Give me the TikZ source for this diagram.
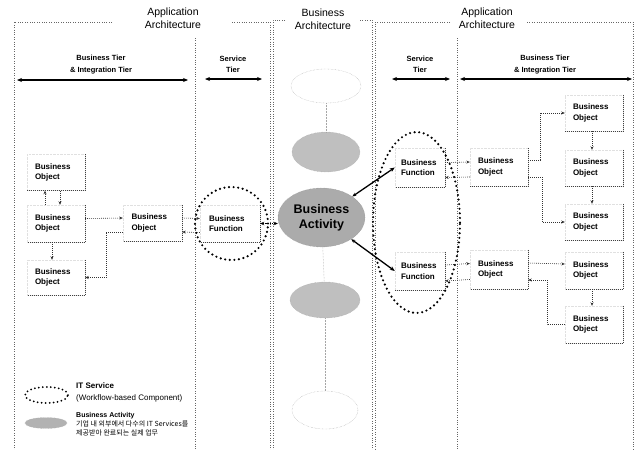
\documentclass[tikz,border=0pt]{standalone}
\usepackage{fontspec}
\setmainfont{Liberation Sans}
\newfontfamily\krfont{Noto Sans CJK KR}
\usetikzlibrary{shapes.geometric,arrows.meta}
\begin{document}
\begin{tikzpicture}[x=1pt,y=-1pt,
 frame/.style={draw=black!60, line width=0.5pt, dash pattern=on 0.8pt off 1.6pt},
 tierarrow/.style={line width=1.1pt, {Stealth[length=5pt,width=4pt]}-{Stealth[length=5pt,width=4pt]}},
 titletext/.style={font=\fontsize{10.5}{13}\selectfont, align=center, inner sep=0},
 tiertext/.style={font=\bfseries\fontsize{7.5}{11.5}\selectfont, align=center, inner sep=0},
 bobox/.style={rectangle, minimum width=58pt, minimum height=36pt, text width=42pt, align=left, inner sep=0, font=\bfseries\fontsize{8}{10.5}\selectfont, draw=black!12, densely dotted},
 bfbox/.style={bobox, minimum width=50pt, text width=38pt},
 shadowedge/.style={draw=black!75, line width=0.6pt, dash pattern=on 0.8pt off 1.2pt},
 conn/.style={draw=black!80, line width=0.6pt, dash pattern=on 0.8pt off 1.2pt, -{Stealth[length=3.5pt,width=3pt]}},
 itserv/.style={draw, line width=2.4pt, dash pattern=on 0pt off 4.6pt, line cap=round},
 grayell/.style={ellipse, fill=black!25, draw=black!35, densely dotted, inner sep=0},
 faintell/.style={ellipse, draw=black!35, densely dotted, inner sep=0},
 faint/.style={draw=black!35, densely dotted, line width=0.5pt},
 baline/.style={line width=1.3pt, {Stealth[length=4pt,width=3.5pt]}-{Stealth[length=5pt,width=4pt]}},
 legtext/.style={align=left, inner sep=0}
]
\useasboundingbox (0,0) rectangle (643,450);
\fill[white] (0,0) rectangle (643,450);

% frames
\draw[frame] (112,22) -- (14,22) -- (14,452);
\draw[frame] (232,22) -- (270,22) -- (270,452);
\draw[frame] (195,38) -- (195,452);
\draw[frame] (285,20) -- (273,20) -- (273,452);
\draw[frame] (360,20) -- (372,20) -- (372,452);
\draw[frame] (450,22) -- (375,22) -- (375,452);
\draw[frame] (527,22) -- (633,22) -- (633,452);
\draw[frame] (457,38) -- (457,452);

% titles
\node[titletext] (t1) at (173,18.5) {Application\\Architecture};
\node[titletext] (t2) at (323,19) {Business\\Architecture};
\node[titletext] (t3) at (487,18.5) {Application\\Architecture};

% tiers
\node[tiertext] (tl1) at (101,64.5) {Business Tier\\\& Integration Tier};
\node[tiertext] (tl2) at (233,64.5) {Service\\Tier};
\node[tiertext] (tr1) at (420,64.5) {Service\\Tier};
\node[tiertext] (tr2) at (545,64.5) {Business Tier\\\& Integration Tier};
\coordinate (a1s) at (17,80); \coordinate (a1e) at (188,80);
\coordinate (a2s) at (205,79); \coordinate (a2e) at (262,79);
\coordinate (a3s) at (392,79); \coordinate (a3e) at (450,79);
\coordinate (a4s) at (460,79); \coordinate (a4e) at (632,79);
\draw[tierarrow] (a1s) -- (a1e);
\draw[tierarrow] (a2s) -- (a2e);
\draw[tierarrow] (a3s) -- (a3e);
\draw[tierarrow] (a4s) -- (a4e);

% business column ellipses
\node[faintell, minimum width=70pt, minimum height=34pt] (e1) at (326,86) {};
\node[grayell, minimum width=68pt, minimum height=40pt] (e2) at (326,152) {};
\node[ellipse, fill=black!33, draw=black!45, densely dotted, minimum width=87pt, minimum height=59pt, inner sep=0,
      font=\bfseries\fontsize{12.5}{15}\selectfont, align=center] (ba) at (321.5,217.5) {Business\\Activity};
\node[grayell, minimum width=70pt, minimum height=36pt] (e4) at (325,300) {};
\node[faintell, minimum width=66pt, minimum height=38pt] (e5) at (325,410) {};
\draw[faint] (e1) -- (e2);
\draw[faint] (ba) -- (e4);
\draw[faint] (e4) -- (e5);

% left side boxes
\node[bobox] (bo1) at (56,172.5) {Business\\Object};
\node[bobox, minimum height=37pt] (bo2) at (56,223.5) {Business\\Object};
\node[bobox, minimum height=35pt] (bo3) at (56,277.5) {Business\\Object};
\node[bobox, minimum width=59pt] (bomid) at (152.5,223) {Business\\Object};
\node[bobox, minimum width=60pt, minimum height=37pt] (bfL) at (230,223.5) {Business\\Function};

% right side boxes
\node[bfbox, minimum height=39pt] (bfRu) at (420,167.5) {Business\\Function};
\node[bfbox, minimum height=38pt] (bfRl) at (420,271) {Business\\Function};
\node[bobox, minimum height=38pt] (boRu) at (499,167) {Business\\Object};
\node[bobox, minimum height=39pt] (boRl) at (499,269.5) {Business\\Object};
\node[bobox] (ra1) at (594,113) {Business\\Object};
\node[bobox] (ra2) at (594,168) {Business\\Object};
\node[bobox] (ra3) at (594,222) {Business\\Object};
\node[bobox, minimum height=37pt] (rb1) at (594,270.5) {Business\\Object};
\node[bobox, minimum height=37pt] (rb2) at (594,324.5) {Business\\Object};

\foreach \n in {bo1,bo2,bo3,bomid,bfL,bfRu,bfRl,boRu,boRl,ra1,ra2,ra3,rb1,rb2}
  \draw[shadowedge] (\n.north east) -- (\n.south east) -- (\n.south west);

% IT service ellipses
\node[itserv, circle, minimum size=73pt, inner sep=0] (itsL) at (231.5,223.5) {};
\node[itserv, ellipse, minimum width=87pt, minimum height=181pt, inner sep=0] (itsR) at (416.5,222.5) {};

% left connectors
\draw[conn] ([xshift=-11pt]bo2.north) -- ([xshift=-11pt]bo1.south);
\draw[conn] ([xshift=4pt]bo1.south) -- ([xshift=4pt]bo2.north);
\draw[conn] ([xshift=-4pt]bo2.south) -- ([xshift=-4pt]bo3.north);
\draw[conn] ([yshift=5pt]bo2.east) -- ([yshift=5pt]bomid.west);
\draw[conn] ([yshift=-9pt]bomid.west) -- ++(-17,0) |- (bo3.east);
\draw[conn] ([yshift=5pt]bomid.east) -- ([yshift=5pt]bfL.west);
\draw[conn] ([yshift=-9pt]bfL.west) -- ([yshift=-9pt]bomid.east);
\draw[line width=0.9pt, densely dotted, {Stealth[length=4pt,width=3.5pt]}-{Stealth[length=4pt,width=3.5pt]}] (bfL.east) -- (ba.west |- bfL.east);

% business activity to right functions
\draw[baline] (ba) -- (bfRu.west);
\draw[baline] (ba) -- (bfRl.west);

% right connectors
\draw[conn] ([yshift=5pt]bfRu.east) -- ([yshift=5pt]boRu.west);
\draw[conn] ([yshift=-10pt]boRu.west) -- ([yshift=-10pt]bfRu.east);
\draw[conn] ([yshift=6pt]bfRl.east) -- ([yshift=6pt]boRl.west);
\draw[conn] ([yshift=-10pt]boRl.west) -- ([yshift=-10pt]bfRl.east);

\draw[conn] ([yshift=7pt]boRu.east) -- ++(12,0) |- (ra1.west);
\draw[conn] ([yshift=-10pt]boRu.east) -- ++(14,0) |- (ra3.west);
\draw[conn] ([xshift=-2pt]ra1.south) -- ([xshift=-2pt]ra2.north);
\draw[conn] ([xshift=-2pt]ra2.south) -- ([xshift=-2pt]ra3.north);

\draw[conn] ([yshift=6.5pt]boRl.east) -- ([yshift=6.5pt]rb1.west);
\draw[conn] (rb2.west) -- ++(-18,0) |- ([yshift=-10.5pt]boRl.east);
\draw[conn] ([xshift=-2pt]rb1.south) -- ([xshift=-2pt]rb2.north);

% legend
\node[itserv, line width=2pt, dash pattern=on 0pt off 4pt, ellipse, minimum width=43pt, minimum height=16pt, inner sep=0] (legIT) at (46.5,395) {};
\node[grayell, fill=black!30, minimum width=42pt, minimum height=11pt] (legBA) at (46,423) {};
\node[legtext, anchor=north west, font=\fontsize{8}{12}\selectfont] (leg1) at (76,382.5) {\textbf{IT Service}\\(Workflow-based Component)};
\node[legtext, anchor=north west, font=\fontsize{7}{9}\selectfont] (leg2) at (76,412) {\textbf{Business Activity}\\{\krfont 기업 내 외부에서 다수의 IT Services를}\\{\krfont 제공받아 완료되는 실제 업무}};
\end{tikzpicture}
\end{document}
